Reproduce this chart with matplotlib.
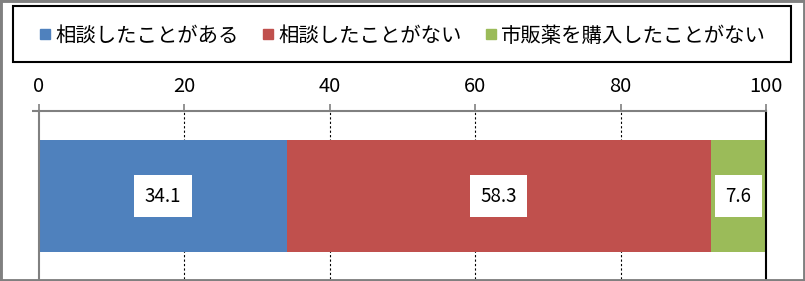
import matplotlib.pyplot as plt
from matplotlib.lines import Line2D
from matplotlib.patches import Rectangle

plt.rcParams['font.family'] = ['Noto Sans CJK JP', 'DejaVu Sans']

# =============================================================================
# Data
# =============================================================================

categories = ['相談したことがある', '相談したことがない', '市販薬を購入したことがない']
values = [34.1, 58.3, 7.6]
colors = ['#4F81BD', '#C0504D', '#9BBB59']
ticks = [0, 20, 40, 60, 80, 100]

# =============================================================================
# Plot
# =============================================================================

W, H = 805, 281
fig = plt.figure(figsize=(W / 100, H / 100), dpi=100)
ax = fig.add_axes([39 / W, 2 / H, 727 / W, 168 / H])

left = 0
for cat, val, col in zip(categories, values, colors):
    ax.barh(0, val, left=left, height=1, color=col, edgecolor='none', zorder=2)
    ax.text(left + val / 2, 0, '%.1f' % val, ha='center', va='center', fontsize=13.5,
            zorder=4, bbox=dict(boxstyle='square,pad=0.55', fc='white', ec='none'))
    left += val

ax.set_xlim(0, 100)
ax.set_ylim(-0.741, 0.759)
ax.set_xticks(ticks)
ax.xaxis.tick_top()
ax.tick_params(axis='x', labelsize=14.5, length=5, width=1.2, color='#808080', pad=5)
ax.set_yticks([0.759])
ax.set_yticklabels([''])
ax.tick_params(axis='y', length=5, width=1.5, color='#808080')

for t in ticks[1:-1]:
    ax.axvline(t, color='black', lw=0.8, ls=(0, (2, 2)), zorder=1)

ax.spines['bottom'].set_visible(False)
ax.spines['top'].set_color('#808080')
ax.spines['top'].set_linewidth(1.5)
ax.spines['left'].set_color('#808080')
ax.spines['left'].set_linewidth(1.5)
ax.spines['right'].set_color('black')
ax.spines['right'].set_linewidth(1.5)

handles = [Line2D([], [], marker='s', ls='none', color=c, markersize=6.5) for c in colors]
leg = fig.legend(handles, categories, loc='center', bbox_to_anchor=(403 / W, 1 - 36 / H),
                 ncol=3, fontsize=14.7, frameon=False,
                 handlelength=0.5, handletextpad=0.25, columnspacing=1.2)

# legend frame
fig.patches.append(Rectangle((13 / W, 1 - 62 / H), 778 / W, 56 / H, transform=fig.transFigure,
                             fill=False, ec='black', lw=1.5))
# outer chart border
fig.patches.append(Rectangle((0, 0), 1, 1, transform=fig.transFigure, fill=False,
                             ec='#808080', lw=3.5))

plt.savefig('out.png', dpi=100)
